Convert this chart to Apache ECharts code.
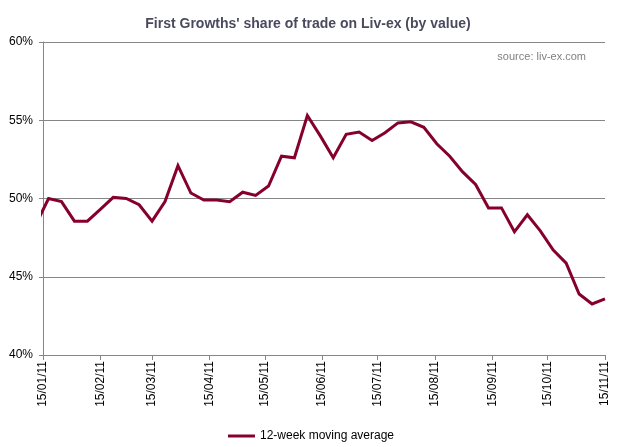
<!DOCTYPE html>
<html>
<head>
<meta charset="utf-8">
<script src="https://cdn.jsdelivr.net/npm/echarts@6/dist/echarts.min.js"></script>
<style>
  html, body { margin: 0; padding: 0; background: #ffffff; }
  #chart { width: 622px; height: 447px; }
</style>
</head>
<body>
<div id="chart"></div>
<script>
// Weekly observation dates (12-week moving average); first one lies just before the axis start
var dates = [
  '2011-01-11','2011-01-18','2011-01-25','2011-02-01','2011-02-08','2011-02-15','2011-02-22',
  '2011-03-01','2011-03-08','2011-03-15','2011-03-22','2011-03-29','2011-04-05','2011-04-12',
  '2011-04-19','2011-04-26','2011-05-03','2011-05-10','2011-05-17','2011-05-24','2011-05-31',
  '2011-06-07','2011-06-14','2011-06-21','2011-06-28','2011-07-05','2011-07-12','2011-07-19',
  '2011-07-26','2011-08-02','2011-08-09','2011-08-16','2011-08-23','2011-08-30','2011-09-06',
  '2011-09-13','2011-09-20','2011-09-27','2011-10-04','2011-10-11','2011-10-18','2011-10-25',
  '2011-11-01','2011-11-08','2011-11-15'
];
// First Growths' share of trade (%), 12-week moving average
var shareValues = [
  48.3, 50.0, 49.8, 48.55, 48.55, 49.3, 50.07,
  50.0, 49.6, 48.55, 49.8, 52.1, 50.35, 49.9,
  49.9, 49.8, 50.4, 50.2, 50.8, 52.7, 52.6,
  55.3, 54.0, 52.6, 54.1, 54.25, 53.7, 54.2,
  54.83, 54.9, 54.55, 53.5, 52.7, 51.7, 50.9,
  49.4, 49.4, 47.87, 48.96, 47.93, 46.7, 45.87,
  43.9, 43.26, 43.58
];
// X-axis tick dates and their labels
var tickDates = [
  '2011-01-15','2011-02-15','2011-03-15','2011-04-15','2011-05-15','2011-06-15',
  '2011-07-15','2011-08-15','2011-09-15','2011-10-15','2011-11-15'
];
var tickLabels = [
  '15/01/11','15/02/11','15/03/11','15/04/11','15/05/11','15/06/11',
  '15/07/11','15/08/11','15/09/11','15/10/11','15/11/11'
];
// Y-axis ticks
var yMin = 40, yMax = 60, yStep = 5;

function ts(s) {
  var p = s.split('-');
  return Date.UTC(+p[0], +p[1] - 1, +p[2]);
}
var tickTs = tickDates.map(ts);
var seriesData = dates.map(function (d, i) { return [ts(d), shareValues[i]]; });

var chart = echarts.init(document.getElementById('chart'), null, { renderer: 'canvas' });
var FONT = 'Liberation Sans, Arial, sans-serif';

chart.setOption({
  backgroundColor: '#ffffff',
  animation: false,
  title: [{
    text: "First Growths' share of trade on Liv-ex (by value)",
    left: 303,
    textAlign: 'center',
    top: 12,
    textStyle: { fontFamily: FONT, fontSize: 14, fontWeight: 'bold', color: '#4a4a5e' }
  }, {
    text: 'source: liv-ex.com',
    right: 31,
    top: 46,
    textStyle: { fontFamily: FONT, fontSize: 11, fontWeight: 'normal', color: '#808080' }
  }],
  legend: {
    bottom: 0,
    left: 'center',
    itemWidth: 27,
    itemHeight: 12,
    itemGap: 4,
    icon: 'path://M0,5 L27,5 L27,8 L0,8 Z',
    textStyle: { fontFamily: FONT, fontSize: 12, color: '#000000' },
    data: ['12-week moving average']
  },
  grid: {
    left: 43, right: 17, top: 42, bottom: 92,
    containLabel: false,
    outerBoundsMode: 'none'
  },
  xAxis: {
    type: 'value',
    min: tickTs[0],
    max: tickTs[tickTs.length - 1],
    axisLine: { show: true, lineStyle: { color: '#868686', width: 1 } },
    axisTick: { show: true, length: 5, lineStyle: { color: '#868686' }, customValues: tickTs },
    splitLine: { show: false },
    axisLabel: {
      customValues: tickTs,
      rotate: 90,
      margin: 6,
      fontFamily: FONT,
      fontSize: 12,
      color: '#000000',
      formatter: function (v) {
        var i = tickTs.indexOf(v);
        return i >= 0 ? tickLabels[i] : '';
      }
    }
  },
  yAxis: {
    type: 'value',
    min: yMin,
    max: yMax,
    interval: yStep,
    axisLine: { show: true, lineStyle: { color: '#868686', width: 1 } },
    axisTick: { show: true, length: 4, lineStyle: { color: '#868686' } },
    splitLine: { show: true, lineStyle: { color: '#868686', width: 1 } },
    axisLabel: {
      margin: 10,
      fontFamily: FONT,
      fontSize: 12,
      color: '#000000',
      formatter: '{value}%'
    }
  },
  series: [{
    name: '12-week moving average',
    type: 'line',
    data: seriesData,
    symbol: 'none',
    clip: true,
    lineStyle: { color: '#86002e', width: 3, join: 'miter' },
    itemStyle: { color: '#86002e' },
    z: 5
  }]
});
</script>
</body>
</html>
